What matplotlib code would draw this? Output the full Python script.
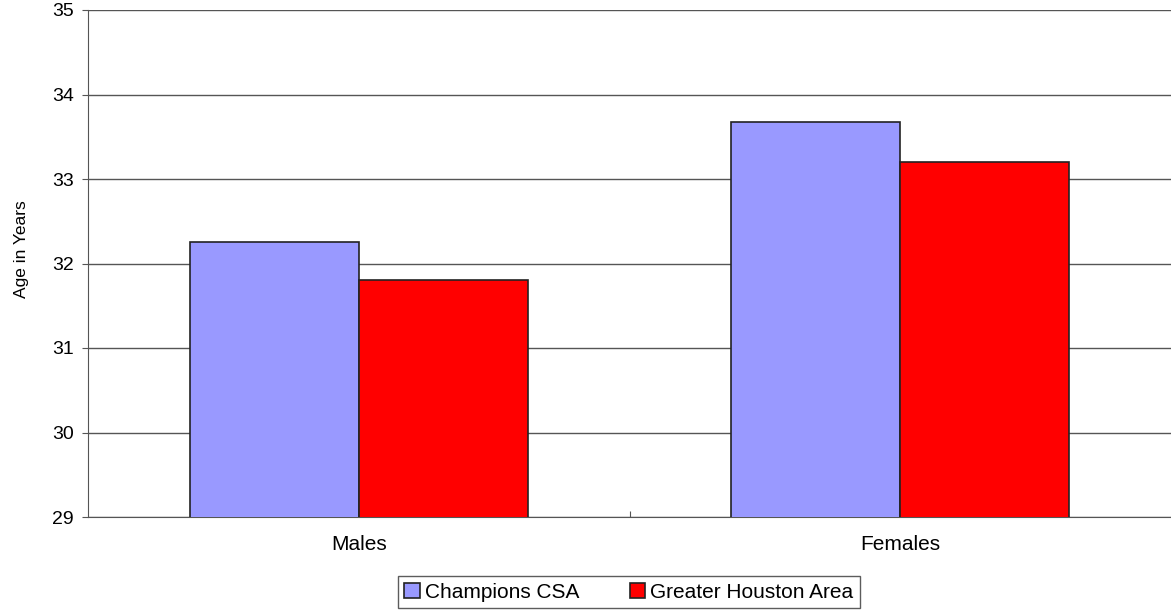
import matplotlib
matplotlib.use("Agg")
import matplotlib.pyplot as plt
import numpy as np

categories = ["Males", "Females"]
series_names = ["Champions CSA", "Greater Houston Area"]
champions = [32.25, 33.68]
houston = [31.8, 33.2]
colors = ["#9999FF", "#FF0000"]
yticks = [29, 30, 31, 32, 33, 34, 35]

plt.rcParams['font.family'] = ['Liberation Sans', 'DejaVu Sans']

fig = plt.figure(figsize=(11.71, 6.11), dpi=100)
ax = fig.add_axes([88/1171, 1-517/611, 1-88/1171, (517-10)/611])

x = np.arange(len(categories))
w = 0.3125
ax.bar(x - w/2, champions, w, color=colors[0], edgecolor="#222222", linewidth=1.2,
       label=series_names[0], zorder=3)
ax.bar(x + w/2, houston, w, color=colors[1], edgecolor="#222222", linewidth=1.2,
       label=series_names[1], zorder=3)

ax.set_ylim(29, 35)
ax.set_xlim(-0.5, 1.5)
ax.set_yticks(yticks)
ax.set_yticklabels([str(t) for t in yticks], fontsize=14)
ax.yaxis.grid(True, color="#555555", linewidth=1.0, zorder=0)
ax.set_axisbelow(True)

ax.set_xticks([0.5])
ax.set_xticklabels([])
ax.set_xticks(x, minor=True)
ax.set_xticklabels(categories, minor=True, fontsize=15)
ax.tick_params(axis='x', which='minor', length=0, pad=13)
ax.tick_params(axis='x', which='major', length=4, direction='in', color="#555555")
ax.tick_params(axis='y', length=4, direction='out', color="#555555", pad=6)

for s in ["top", "right"]:
    ax.spines[s].set_visible(False)
ax.spines["left"].set_color("#555555")
ax.spines["bottom"].set_color("#555555")
ax.set_ylabel("Age in Years", fontsize=12.5)
ax.yaxis.set_label_coords(-59/1083, 1 - (249-10)/507)

leg = fig.legend(loc="center", bbox_to_anchor=(629/1171, 1-592/611), ncol=2,
                 fontsize=15, frameon=True, fancybox=False, edgecolor="#333333",
                 handlelength=0.75, handleheight=0.75, handletextpad=0.25,
                 columnspacing=2.4, borderpad=0.3, borderaxespad=0)
leg.get_frame().set_linewidth(1.0)

fig.savefig("out.png", dpi=100)
